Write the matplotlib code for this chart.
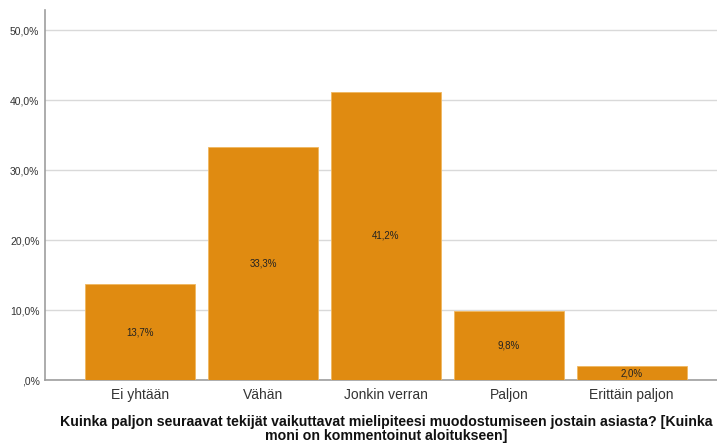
import matplotlib
matplotlib.use("Agg")
import matplotlib.pyplot as plt

plt.rcParams["font.family"] = ["Liberation Sans", "DejaVu Sans"]

categories = ["Ei yhtään", "Vähän", "Jonkin verran", "Paljon", "Erittäin paljon"]
percent = [13.7, 33.3, 41.2, 9.8, 2.0]
y_ticks = [0, 10, 20, 30, 40, 50]
y_tick_labels = [",0%", "10,0%", "20,0%", "30,0%", "40,0%", "50,0%"]
x_title = ("Kuinka paljon seuraavat tekijät vaikuttavat mielipiteesi muodostumiseen jostain asiasta? [Kuinka\n"
           "moni on kommentoinut aloitukseen]")

bar_color = "#E08B11"

fig = plt.figure(figsize=(7.17, 4.43), dpi=100)
ax = fig.add_axes([45 / 717, 63 / 443, 682 / 717, 370 / 443])

x = list(range(len(categories)))
ax.bar(x, percent, width=0.895, color=bar_color, edgecolor="#F0B860", linewidth=0.6, zorder=3)

for xi, v in zip(x, percent):
    label = f"{v:.1f}%".replace(".", ",")
    ax.text(xi, v / 2, label, ha="center", va="center", fontsize=7, color="#222222", zorder=4,
            bbox=dict(boxstyle="square,pad=0.12", facecolor=bar_color, edgecolor="none"))

ax.set_xlim(-0.776, 4.776)
ax.set_ylim(0, 52.86)
ax.set_yticks(y_ticks)
ax.set_yticklabels(y_tick_labels, fontsize=7.5, color="#333333")
ax.set_xticks(x)
ax.set_xticklabels(categories, fontsize=10, color="#333333")
ax.tick_params(axis="both", length=0)
ax.tick_params(axis="y", pad=4)
ax.tick_params(axis="x", pad=6)
ax.yaxis.grid(True, color="#D9D9D9", linewidth=1.0, zorder=0)
ax.set_axisbelow(True)

for side in ["top", "right"]:
    ax.spines[side].set_visible(False)
for side in ["left", "bottom"]:
    ax.spines[side].set_color("#9E9E9E")
    ax.spines[side].set_linewidth(1.2)

fig.text(386 / 717, 1 - 429 / 443, x_title, ha="center", va="center", fontsize=10.2,
         fontweight="bold", color="#111111", linespacing=0.98)

fig.savefig("out.png", dpi=100)
